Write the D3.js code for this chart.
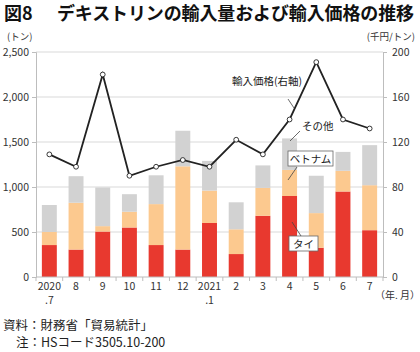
<!DOCTYPE html>
<html><head><meta charset="utf-8">
<script src="https://cdn.jsdelivr.net/npm/d3@7"></script>
<style>
body{margin:0;background:#fff;}
svg{display:block;font-family:"Noto Sans CJK JP","Noto Sans",sans-serif;}
</style></head>
<body><svg id="c" width="420" height="352"></svg>
<script>
const months = ["2020\n.7","8","9","10","11","12","2021\n.1","2","3","4","5","6","7"];
const thai    = [355,305,505,550,355,305,600,255,680,900,325,950,520];
const vietnam = [145,520,60,175,455,925,360,275,310,290,385,230,500];
const other   = [300,295,430,195,320,395,330,300,250,350,415,210,445];
const price   = [109,98,180,90,98,104,98,122,109,140,191,140,132];
const leftTicks = [0,500,1000,1500,2000,2500];
const rightTicks = [0,40,80,120,160,200];
const seriesNames = ["タイ","ベトナム","その他"];
const colors = ["#e8392f","#fcc98f","#d2d2d2"];

const svg = d3.select("#c");
const X0 = 36, X1 = 383, Y0 = 277, Y1 = 52;
const x = d3.scaleBand().domain(months).range([X0, X1]).paddingInner(0.44).paddingOuter(0.22);
const yL = d3.scaleLinear().domain([0,2500]).range([Y0, Y1]);
const yR = d3.scaleLinear().domain([0,200]).range([Y0, Y1]);

// title
const title = svg.append("g").attr("font-size",18).attr("font-weight","bold").attr("fill","#111");
title.append("text").attr("x",4).attr("y",20).text("図8");
title.append("text").attr("x",57).attr("y",20).attr("textLength",357).attr("lengthAdjust","spacing")
  .text("デキストリンの輸入量および輸入価格の推移");

// gridlines
svg.append("g").selectAll("line").data(leftTicks.slice(1)).join("line")
  .attr("x1",X0).attr("x2",X1).attr("y1",d=>yL(d)).attr("y2",d=>yL(d))
  .attr("stroke","#d9d9d9").attr("stroke-width",1);

// stacked bars
const rows = months.map((m,i)=>({m, thai:thai[i], vietnam:vietnam[i], other:other[i]}));
const stack = d3.stack().keys(["thai","vietnam","other"])(rows);
svg.append("g").selectAll("g").data(stack).join("g").attr("fill",(d,i)=>colors[i])
  .selectAll("rect").data(d=>d).join("rect")
  .attr("x",d=>x(d.data.m)).attr("width",x.bandwidth())
  .attr("y",d=>yL(d[1])).attr("height",d=>yL(d[0])-yL(d[1]));

// axes
const axL = svg.append("g").attr("transform",`translate(${X0},0)`)
  .call(d3.axisLeft(yL).tickValues(leftTicks).tickFormat(d3.format(",")).tickSize(4).tickPadding(3));
const axR = svg.append("g").attr("transform",`translate(${X1},0)`)
  .call(d3.axisRight(yR).tickValues(rightTicks).tickSize(4).tickPadding(5));
[axL,axR].forEach(a=>{
  a.select(".domain").attr("stroke","#bdbdbd");
  a.selectAll(".tick line").attr("stroke","#bdbdbd");
  a.selectAll("text").attr("font-size",10.5).attr("fill","#333").attr("font-family","'Noto Sans CJK JP',sans-serif");
});
// x axis
const axB = svg.append("g");
axB.append("line").attr("x1",X0).attr("x2",X1).attr("y1",Y0).attr("y2",Y0).attr("stroke","#bdbdbd");
axB.selectAll("line.t").data(d3.range(months.length+1)).join("line").attr("class","t")
  .attr("x1",i=>X0+i*(X1-X0)/months.length).attr("x2",i=>X0+i*(X1-X0)/months.length)
  .attr("y1",Y0).attr("y2",Y0+4).attr("stroke","#bdbdbd");
const xl = axB.selectAll("text").data(months).join("text")
  .attr("x",d=>x(d)+x.bandwidth()/2).attr("y",290).attr("text-anchor","middle")
  .attr("font-size",10.5).attr("fill","#333");
xl.each(function(d){
  const parts = d.split("\n");
  const t = d3.select(this);
  parts.forEach((p,k)=>t.append("tspan").attr("x",x(d)+x.bandwidth()/2).attr("dy",k?14:0).text(p));
});
svg.append("text").attr("x",375).attr("y",299).attr("font-size",10).attr("fill","#333").text("（年. 月）");

// unit labels
svg.append("text").attr("x",7).attr("y",40).attr("font-size",9.5).attr("fill","#333").text("(トン)");
svg.append("text").attr("x",415).attr("y",40).attr("text-anchor","end").attr("font-size",9.5).attr("fill","#333").text("(千円/トン)");

// price line
const line = d3.line().x((d,i)=>x(months[i])+x.bandwidth()/2).y(d=>yR(d));
svg.append("path").datum(price).attr("d",line).attr("fill","none").attr("stroke","#222").attr("stroke-width",1.8);
svg.append("g").selectAll("circle").data(price).join("circle")
  .attr("cx",(d,i)=>x(months[i])+x.bandwidth()/2).attr("cy",d=>yR(d)).attr("r",2.4)
  .attr("fill","#fff").attr("stroke","#222").attr("stroke-width",0.9);

// annotations
const ann = svg.append("g").attr("font-size",10.5).attr("fill","#222");
function leader(x1,y1,x2,y2){ann.append("line").attr("x1",x1).attr("y1",y1).attr("x2",x2).attr("y2",y2).attr("stroke","#444").attr("stroke-width",0.8);}
ann.append("text").attr("x",232).attr("y",85).text("輸入価格(右軸)");
leader(288,99,294,108);
ann.append("text").attr("x",302).attr("y",130).text(seriesNames[2]);
leader(300,131,290,141);
ann.append("rect").attr("x",288).attr("y",151).attr("width",45).attr("height",15).attr("fill","#fff").attr("stroke","#666").attr("stroke-width",0.8);
ann.append("text").attr("x",310.5).attr("y",162.5).attr("text-anchor","middle").text(seriesNames[1]);
leader(297,167,288,180);
ann.append("rect").attr("x",289).attr("y",236).attr("width",29).attr("height",15).attr("fill","#fff").attr("stroke","#666").attr("stroke-width",0.8);
ann.append("text").attr("x",303.5).attr("y",247.5).attr("text-anchor","middle").text(seriesNames[0]);
leader(292,222,301,236);

// notes
svg.append("text").attr("x",3).attr("y",330).attr("font-size",12.5).attr("fill","#222").text("資料：財務省「貿易統計」");
svg.append("text").attr("x",16).attr("y",347).attr("font-size",12.5).attr("fill","#222").text("注：HSコード3505.10-200");
</script></body></html>
